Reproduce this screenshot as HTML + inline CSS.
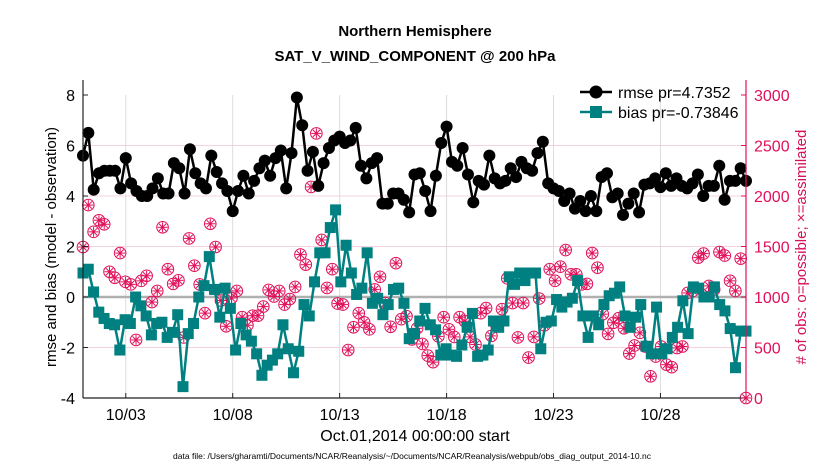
<!DOCTYPE html>
<html><head><meta charset="utf-8"><style>
body{margin:0;background:#fff;}
svg{display:block;font-family:"Liberation Sans",sans-serif;}
</style></head><body>
<svg id="chart" width="830" height="470" viewBox="0 0 830 470">
<text x="415" y="36" text-anchor="middle" font-size="15" font-weight="bold">Northern Hemisphere</text>
<text x="415" y="61" text-anchor="middle" font-size="15" font-weight="bold">SAT_V_WIND_COMPONENT @ 200 hPa</text>
<g id="grid"></g><g id="marks"></g><g id="axes"></g>
<text transform="translate(56,247) rotate(-90)" text-anchor="middle" font-size="15">rmse and bias (model - observation)</text>
<text transform="translate(806,247) rotate(-90)" text-anchor="middle" font-size="15" fill="#d6105a"># of obs: o=possible; ×=assimilated</text>
<text x="415" y="441" text-anchor="middle" font-size="16">Oct.01,2014 00:00:00 start</text>
<text x="412" y="459" text-anchor="middle" font-size="8.5">data file: /Users/gharamti/Documents/NCAR/Reanalysis/~/Documents/NCAR/Reanalysis/webpub/obs_diag_output_2014-10.nc</text>
<g id="legend">
<line x1="580" y1="92" x2="612" y2="92" stroke="#000" stroke-width="2.5"/>
<circle cx="596" cy="92" r="6.5" fill="#000"/>
<text x="618" y="98" font-size="16">rmse pr=4.7352</text>
<line x1="580" y1="112" x2="612" y2="112" stroke="#008080" stroke-width="2.5"/>
<rect x="590" y="106" width="12" height="12" fill="#008080"/>
<text x="618" y="118" font-size="16">bias pr=-0.73846</text>
</g>
</svg>
<script>
const dateTicks=[2,7,12,17,22,27];
const dateLabels=["10/03","10/08","10/13","10/18","10/23","10/28"];
const leftTicks=[-4,-2,0,2,4,6,8];
const rightTicks=[0,500,1000,1500,2000,2500,3000];
const rmse=[5.6,6.5,4.25,4.9,5.0,5.0,5.0,4.3,5.5,4.5,4.2,4.0,4.0,4.3,4.7,4.1,4.1,5.3,5.1,4.1,5.85,4.9,4.5,4.3,5.6,4.95,4.5,4.2,3.4,4.2,4.8,4.1,
4.6,5.1,5.4,4.8,5.5,5.8,4.3,5.7,7.9,6.8,5.0,5.75,4.4,5.3,5.9,6.2,6.35,6.1,6.2,6.7,5.2,4.7,5.3,5.5,3.7,3.7,4.1,4.1,3.85,3.35,4.85,
4.9,4.2,3.4,4.8,6.1,6.75,5.35,5.2,5.9,4.85,3.75,4.6,4.45,5.6,4.7,4.5,4.6,5.1,4.75,5.35,5.1,5.0,5.7,6.15,4.5,4.3,4.2,3.8,4.1,3.5,3.8,3.4,
4.0,3.4,4.75,4.9,3.95,4.1,3.25,3.7,4.1,3.35,4.45,4.5,4.7,4.35,4.9,4.4,4.7,4.4,4.3,4.5,4.85,4.0,4.4,4.4,5.2,3.85,4.6,4.6,5.1,4.6];
const bias=[0.95,1.1,0.2,-0.6,-0.85,-1.05,-1.1,-2.1,-0.9,-1.05,0.0,-0.35,-0.75,-1.5,-1.05,-1.0,-1.6,-1.4,-0.7,-3.55,-1.45,-1.05,0.0,0.45,1.6,0.3,-0.8,0.35,-0.45,-2.1,-1.05,-1.5,
-1.75,-2.25,-3.1,-2.7,-2.5,-2.25,-1.1,-2.05,-3.0,-2.15,-0.3,-0.75,0.6,1.75,1.75,2.75,3.45,0.6,2.05,0.95,0.1,0.35,1.75,-0.25,-0.05,-0.7,-0.3,0.3,0.35,-0.25,-1.65,
-1.45,-0.95,-0.45,-1.1,-1.3,-2.3,-2.05,-2.3,-2.35,-1.9,-1.2,-0.65,-2.35,-2.3,-2.1,-0.95,-1.2,-0.95,0.8,0.5,0.95,0.65,0.95,0.95,-2.05,-1.0,-0.95,-0.1,-0.4,-0.2,-0.05,0.65,-0.75,
-1.6,-0.75,-1.1,-0.3,0.05,0.15,0.4,-0.75,-1.2,-0.8,-0.3,-1.95,-2.25,-0.4,-2.25,-2.05,-1.6,-1.2,-0.15,-1.45,0.4,0.35,0.0,0.0,0.4,-0.3,-0.55,-1.25,-2.8,-1.35,-1.35];
const obsCount=[1495,1910,1645,1760,1720,1250,1190,1435,1150,1125,575,1160,1210,950,1060,1690,1275,1130,1165,600,1580,1310,1125,840,1725,1495,965,710,990,1060,800,720,
815,815,905,1070,1005,1060,925,980,1100,1420,1320,2090,2620,1565,1090,1275,935,925,475,700,840,750,680,1075,1200,940,705,1335,780,810,580,
690,535,420,355,610,800,680,605,800,760,605,530,840,890,615,710,880,1185,940,600,940,400,605,985,720,1275,1160,1300,1465,1225,1225,1125,
1130,1435,1290,830,635,745,790,690,440,520,645,510,215,410,510,330,305,495,510,1040,1060,1390,1430,1110,1075,1445,1410,1160,1060,1380,0];
const X0=83,X1=746,YT=95,YB=398;
const xs=d=>X0+(X1-X0)*d/31;
const yl=v=>YB-(YB-YT)*(v+4)/12;
const yr=v=>YB-(YB-YT)*v/3000;
const NS="http://www.w3.org/2000/svg";
function mk(tag,attrs,parent){const e=document.createElementNS(NS,tag);for(const k in attrs)e.setAttribute(k,attrs[k]);parent.appendChild(e);return e;}
const grid=document.getElementById('grid'),marks=document.getElementById('marks'),axes=document.getElementById('axes');
leftTicks.forEach(v=>{if(v!==0&&v!==-4&&v!==8){const l=mk('line',{x1:X0,x2:X1,y1:yl(v),y2:yl(v),stroke:'#f3d3e0','stroke-width':1},grid);

}});
dateTicks.forEach(d=>{const l=mk('line',{x1:xs(d),x2:xs(d),y1:YT,y2:YB,stroke:'#dcdcdc','stroke-width':1},grid);

});
const z=mk('line',{x1:X0,x2:X1,y1:yl(0),y2:yl(0),stroke:'#b0b0b0','stroke-width':2.5},grid);


const stepO=31/(obsCount.length-1);
obsCount.forEach((v,i)=>{const cx=xs(i*stepO),cy=yr(v);const g=mk('g',{stroke:'#e0105a','stroke-width':1,fill:'none'},marks);


mk('circle',{cx:cx,cy:cy,r:5.8},g);
for(let a=0;a<4;a++){const t=a*Math.PI/4;mk('line',{x1:cx-5*Math.cos(t),y1:cy-5*Math.sin(t),x2:cx+5*Math.cos(t),y2:cy+5*Math.sin(t)},g);}});
const stepR=31/(rmse.length-1);
const pr=mk('polyline',{points:rmse.map((v,i)=>xs(i*stepR)+','+yl(v)).join(' '),fill:'none',stroke:'#000','stroke-width':2.5},marks);


rmse.forEach((v,i)=>{const c=mk('circle',{cx:xs(i*stepR),cy:yl(v),r:6,fill:'#000'},marks);

});
const stepB=31/(bias.length-1);
const pb=mk('polyline',{points:bias.map((v,i)=>xs(i*stepB)+','+yl(v)).join(' '),fill:'none',stroke:'#008080','stroke-width':2.5},marks);


bias.forEach((v,i)=>{const r=mk('rect',{x:xs(i*stepB)-5.5,y:yl(v)-5.5,width:11,height:11,fill:'#008080'},marks);

});
mk('line',{x1:X0,x2:X0,y1:YT-15,y2:YB,stroke:'#222','stroke-width':1.2},axes);
mk('line',{x1:X0,x2:X1,y1:YB,y2:YB,stroke:'#222','stroke-width':1.2},axes);
mk('line',{x1:X1,x2:X1,y1:YT-15,y2:YB,stroke:'#e0105a','stroke-width':1.2},axes);
leftTicks.forEach(v=>{mk('line',{x1:X0,x2:X0+5,y1:yl(v),y2:yl(v),stroke:'#222'},axes);
const t=mk('text',{x:X0-8,y:yl(v)+6,'text-anchor':'end','font-size':16},axes);t.textContent=v;

});
rightTicks.forEach(v=>{mk('line',{x1:X1-5,x2:X1,y1:yr(v),y2:yr(v),stroke:'#e0105a'},axes);
const t=mk('text',{x:X1+8,y:yr(v)+6,'font-size':16,fill:'#e0105a'},axes);t.textContent=v;

});
dateTicks.forEach((d,i)=>{mk('line',{x1:xs(d),x2:xs(d),y1:YB-5,y2:YB,stroke:'#222'},axes);
const t=mk('text',{x:xs(d),y:YB+22,'text-anchor':'middle','font-size':16},axes);t.textContent=dateLabels[i];

});
</script>
</body></html>
